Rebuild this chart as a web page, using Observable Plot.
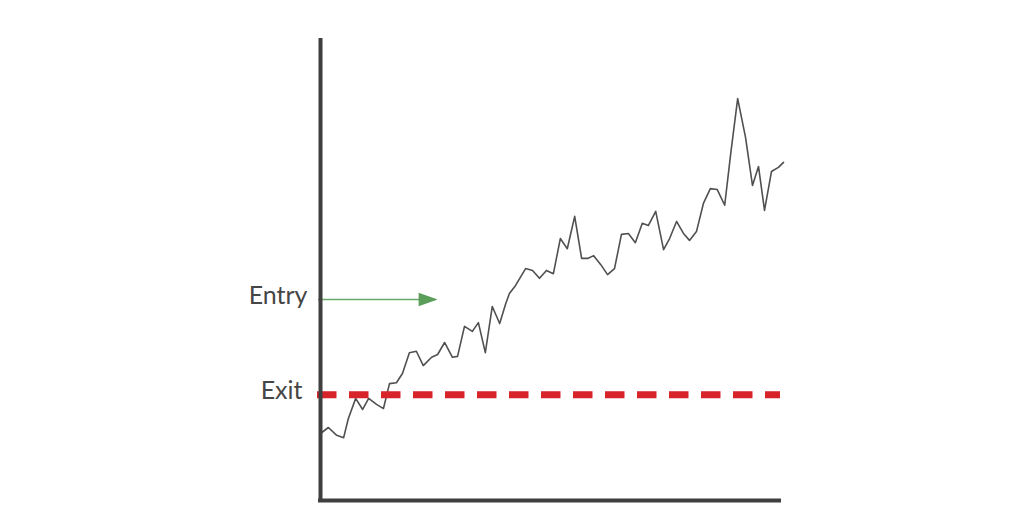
<!DOCTYPE html>
<html>
<head>
<meta charset="utf-8">
<script src="https://cdn.jsdelivr.net/npm/d3@7"></script>
<script src="https://cdn.jsdelivr.net/npm/@observablehq/plot@0.6"></script>
<style>
  html, body { margin: 0; padding: 0; background: #fff; }
  #chart svg { display: block; }
</style>
</head>
<body>
<div id="chart"></div>
<script>
// Time (percent of period) and price values
const days = [0, 1.7, 3.5, 5.0, 6.0, 7.6, 9.1, 10.4, 12.1, 13.6, 14.9, 16.4, 17.7, 19.2, 20.7, 22.2, 24.0, 25.3, 26.8, 28.5,
  29.6, 31.1, 32.8, 34.1, 35.6, 37.1, 38.7, 40.0, 40.8, 42.1, 44.3, 45.8, 47.3, 48.8, 50.3, 51.8, 53.3, 54.9, 56.4, 57.7,
  59.0, 60.5, 62.0, 63.5, 65.0, 66.5, 68.0, 69.5, 70.8, 72.4, 74.1, 75.4, 76.9, 78.4, 79.7, 81.2, 82.7, 84.2, 85.7, 87.3,
  88.6, 90.1, 91.8, 93.3, 94.6, 95.9, 97.4, 98.9, 100];
const prices = [14.5, 15.8, 14.1, 13.6, 17.7, 22.1, 19.7, 22.1, 20.8, 19.9, 25.3, 25.5, 27.5, 32.0, 32.3, 29.2, 31.0, 31.6, 34.2, 31.0,
  31.2, 37.7, 36.6, 38.5, 32.0, 42.0, 38.3, 42.6, 44.8, 46.5, 50.2, 49.8, 48.1, 49.8, 49.1, 56.7, 54.5, 61.5, 52.4, 52.4,
  53.0, 51.1, 48.9, 50.2, 57.6, 57.8, 55.8, 60.0, 59.5, 62.6, 54.3, 56.7, 60.4, 57.8, 56.3, 58.2, 64.3, 67.5, 67.3, 63.9,
  75.1, 87.0, 78.6, 68.2, 72.3, 62.8, 71.2, 72.1, 73.2];
const levelNames = ["Entry", "Exit"];
const levelValues = [43.5, 22.9];
const entryArrowEnd = 25.3;

const series = days.map((d, i) => ({day: d, price: prices[i]}));

const arrowHead = {
  draw(ctx, size) {
    const r = Math.sqrt(size / Math.PI);
    ctx.moveTo(0, 0);
    ctx.lineTo(-1.9 * r, -0.68 * r);
    ctx.lineTo(-1.9 * r, 0.68 * r);
    ctx.closePath();
  }
};

const chart = Plot.plot({
  width: 1024,
  height: 527,
  marginLeft: 320,
  marginRight: 241,
  marginTop: 38,
  marginBottom: 27,
  style: {background: "#fff", fontFamily: "Lato, 'Open Sans', sans-serif"},
  x: {domain: [0, 100], axis: null},
  y: {domain: [0, 100], axis: null},
  marks: [
    // price line
    Plot.line(series, {x: "day", y: "price", stroke: "#505050", strokeWidth: 1.6, strokeLinejoin: "round"}),
    // exit level (dashed)
    Plot.ruleY([levelValues[1]], {x1: 0, x2: 100, dx: -3, stroke: "#d7232a", strokeWidth: 7, strokeDasharray: "19.5,12.5"}),
    // entry arrow
    Plot.ruleY([levelValues[0]], {x1: 0, x2: entryArrowEnd, dx: -2, stroke: "#6aa96a", strokeWidth: 1.6}),
    Plot.dot([entryArrowEnd], {x: d => d, y: levelValues[0], symbol: arrowHead, r: 10, fill: "#5a9e5a", stroke: "none"}),
    // axes
    Plot.ruleX([0], {y1: 0, y2: 100, stroke: "#3f3f3f", strokeWidth: 4}),
    Plot.ruleY([0], {x1: 0, x2: 100, dx: -2, stroke: "#3f3f3f", strokeWidth: 4}),
    // labels
    Plot.text([0], {x: 0, y: levelValues[0], text: () => levelNames[0], dx: -13, dy: 4, textAnchor: "end", lineAnchor: "bottom", fontSize: 25, fill: "#464646"}),
    Plot.text([1], {x: 0, y: levelValues[1], text: () => levelNames[1], dx: -18, dy: 4, textAnchor: "end", lineAnchor: "bottom", fontSize: 25, fill: "#464646"})
  ]
});
document.getElementById("chart").appendChild(chart);
</script>
</body>
</html>
